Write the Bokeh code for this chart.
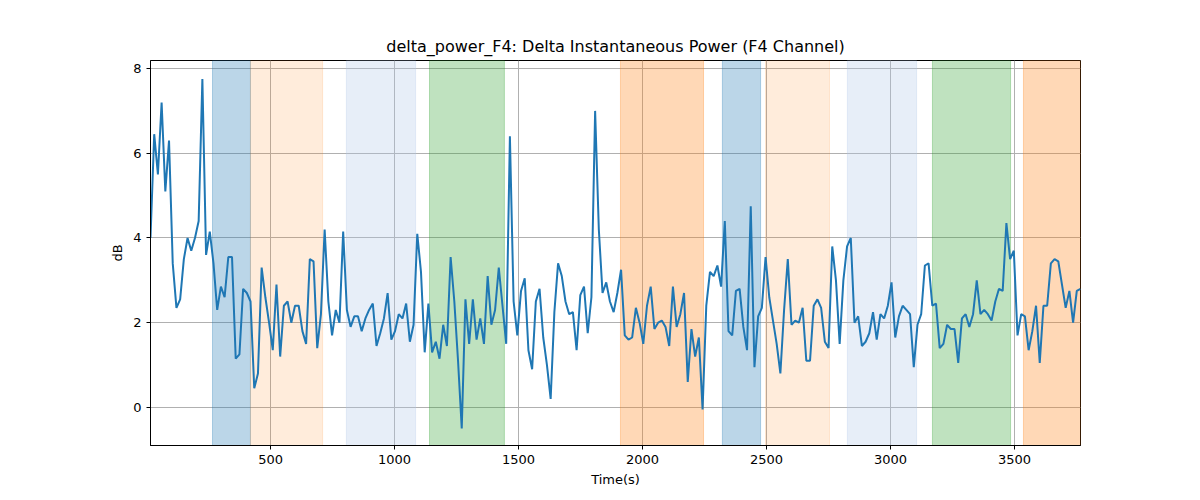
import numpy as np
from bokeh.plotting import figure
from bokeh.models import BoxAnnotation, Range1d, FixedTicker
from bokeh.embed import file_html
from bokeh.resources import INLINE

values = [4.0, 6.45, 5.5, 7.2, 5.1, 6.3, 3.4, 2.35, 2.55, 3.5, 4.0, 3.7, 4.0, 4.4, 7.75, 3.6, 4.15, 3.4, 2.3, 2.85, 2.6, 3.55, 3.55, 1.15, 1.25, 2.8, 2.7, 2.5, 0.45, 0.8, 3.3, 2.6, 2.0, 1.35, 2.9, 1.2, 2.4, 2.5, 2.0, 2.4, 2.4, 1.8, 1.5, 3.5, 3.45, 1.4, 2.2, 4.2, 2.5, 1.7, 2.3, 2.0, 4.15, 2.3, 1.9, 2.15, 2.15, 1.8, 2.1, 2.3, 2.45, 1.45, 1.75, 2.1, 2.7, 1.6, 1.8, 2.2, 2.1, 2.45, 1.55, 1.95, 4.1, 3.2, 1.3, 2.45, 1.3, 1.55, 1.15, 1.95, 1.45, 3.55, 2.5, 1.1, -0.5, 2.55, 1.5, 2.55, 1.6, 2.1, 1.5, 3.1, 1.95, 2.3, 3.3, 2.4, 1.5, 6.4, 2.5, 1.7, 2.75, 3.05, 1.35, 0.9, 2.5, 2.8, 1.65, 1.0, 0.2, 2.25, 3.4, 3.1, 2.5, 2.2, 2.25, 1.35, 2.65, 2.85, 1.75, 2.6, 7.0, 4.2, 2.7, 2.95, 2.5, 2.25, 2.7, 3.25, 1.7, 1.6, 1.65, 2.35, 2.0, 1.5, 2.4, 2.85, 1.85, 2.0, 2.05, 1.9, 1.45, 2.85, 1.9, 2.2, 2.7, 0.6, 1.85, 1.2, 1.65, -0.05, 2.4, 3.2, 3.1, 3.35, 2.85, 4.4, 1.8, 1.7, 2.75, 2.8, 1.9, 1.35, 4.75, 0.95, 2.15, 2.35, 3.55, 2.6, 2.05, 1.5, 0.8, 2.3, 3.5, 1.95, 2.05, 2.0, 2.35, 1.1, 1.1, 2.4, 2.55, 2.35, 1.55, 1.4, 3.8, 3.0, 1.5, 3.0, 3.8, 4.0, 2.0, 2.15, 1.45, 1.55, 1.75, 2.25, 1.6, 2.2, 2.1, 2.4, 2.95, 1.65, 2.15, 2.4, 2.3, 2.2, 0.95, 1.95, 2.2, 3.35, 3.4, 2.4, 2.45, 1.4, 1.5, 1.95, 1.85, 1.85, 1.05, 2.1, 2.2, 1.9, 2.2, 3.0, 2.2, 2.3, 2.2, 2.05, 2.5, 2.8, 2.75, 4.35, 3.5, 3.7, 1.7, 2.2, 2.15, 1.35, 1.8, 2.4, 1.05, 2.4, 2.4, 3.4, 3.5, 3.45, 2.9, 2.35, 2.75, 2.0, 2.75, 2.8]
t_start, t_end = 16, 3766
times = np.linspace(t_start, t_end, len(values))

span_left = [266, 419, 806, 1141, 1911, 2322, 2496, 2826, 3169, 3536]
span_right = [419, 710, 1085, 1443, 2246, 2476, 2754, 3105, 3484, 3766]
span_color = ["#1f77b4", "#ff7f0e", "#aec7e8", "#2ca02c", "#ff7f0e", "#1f77b4", "#ff7f0e", "#aec7e8", "#2ca02c", "#ff7f0e"]
span_alpha = [0.3, 0.15, 0.3, 0.3, 0.3, 0.3, 0.15, 0.3, 0.3, 0.3]

p = figure(output_backend="svg", toolbar_location=None, width=1184, height=484,
           frame_width=930, frame_height=385, min_border_left=150, min_border_top=60,
           min_border_right=104, min_border_bottom=39,
           title="delta_power_F4: Delta Instantaneous Power (F4 Channel)",
           x_axis_label="Time(s)", y_axis_label="dB",
           x_range=Range1d(t_start, t_end), y_range=Range1d(-0.9, 8.19))
p.title.align = "center"
p.title.text_font = "DejaVu Sans"
p.title.text_font_style = "normal"
p.title.text_font_size = "16px"
p.title.text_color = "black"
for l, r, c, a in zip(span_left, span_right, span_color, span_alpha):
    p.add_layout(BoxAnnotation(left=l, right=r, fill_color=c, fill_alpha=a, line_color=c, line_alpha=a, level="underlay"))
p.line(times, values, line_color="#1f77b4", line_width=2)
p.xaxis.ticker = FixedTicker(ticks=[500, 1000, 1500, 2000, 2500, 3000, 3500])
p.yaxis.ticker = FixedTicker(ticks=[0, 2, 4, 6, 8])
for ax in (p.xaxis, p.yaxis):
    ax.axis_label_text_font = "DejaVu Sans"
    ax.axis_label_text_font_style = "normal"
    ax.axis_label_text_font_size = "13px"
    ax.axis_label_text_color = "black"
    ax.major_label_text_font = "DejaVu Sans"
    ax.major_label_text_font_size = "13px"
    ax.major_label_text_color = "black"
    ax.minor_tick_line_color = None
    ax.major_tick_in = 0
    ax.major_tick_out = 4
    ax.major_tick_line_color = "black"
    ax.axis_line_color = "black"
p.grid.grid_line_color = "#b0b0b0"
p.grid.grid_line_width = 1
p.grid.level = "underlay"
p.outline_line_color = "black"
p.outline_line_alpha = 1

open("out.html", "w").write(file_html(p, INLINE))
